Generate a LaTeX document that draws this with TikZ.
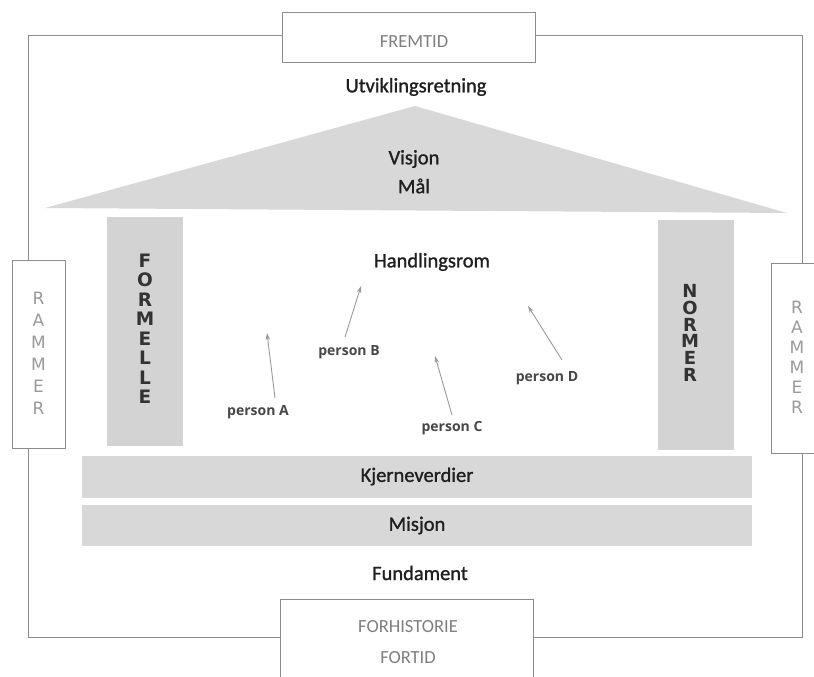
\documentclass[tikz,border=0pt]{standalone}
\usepackage{fontspec}
\setmainfont{Carlito}
\newfontfamily\semib{Carlito}[FakeBold=1.2]
\newfontfamily\lettfont{DejaVu Sans}
\newfontfamily\ramfont{DejaVu Sans}
\newfontfamily\persfont{Open Sans}
\usetikzlibrary{arrows.meta}
\definecolor{framegrey}{HTML}{8C8C8C}
\definecolor{fillgrey}{HTML}{D8D8D8}
\definecolor{pillargrey}{HTML}{D3D3D3}
\definecolor{txtgrey}{HTML}{7F7F7F}
\definecolor{ramgrey}{HTML}{9A9A9A}
\definecolor{arrowgrey}{HTML}{9A9A9A}
\begin{document}
\begin{tikzpicture}[x=1pt,y=-1pt,
  framebox/.style={draw=framegrey, line width=0.8pt, fill=white, inner sep=0pt},
  band/.style={fill=fillgrey, inner sep=0pt, minimum width=670pt},
  pillar/.style={fill=pillargrey, inner sep=0pt, minimum width=76pt},
  bigtext/.style={font=\semib\fontsize{20.5}{24}\selectfont, text=black!88},
  greytext/.style={font=\fontsize{18.5}{22}\selectfont, text=txtgrey},
  vlett/.style={align=center, inner sep=0pt, text=black!80},
  ramlett/.style={align=center, inner sep=0pt, text=ramgrey, font=\ramfont\fontsize{17}{22}\selectfont},
  pers/.style={font=\persfont\bfseries\fontsize{14}{16}\selectfont, text=black!72, inner sep=0pt},
  parrow/.style={draw=arrowgrey, line width=0.9pt, -{Stealth[length=7pt,width=4.5pt]}},
]
\useasboundingbox (0,0) rectangle (814,677);
\fill[white] (0,0) rectangle (814,677);
% outer frame
\draw[framegrey, line width=0.8pt] (28,35) rectangle (802,637);
% top box
\node[framebox, minimum width=253pt, minimum height=50pt] (fremtidbox) at (408.5,37) {};
\node[greytext] (fremtid) at (414,42) {FREMTID};
\node[bigtext] (utv) at (416,87) {Utviklingsretning};
% roof
\fill[fillgrey] (45,208) -- (415,106) -- (787,213) -- cycle;
\node[bigtext] (visjon) at (414,159) {Visjon};
\node[bigtext] (maal) at (414,186) {Mål};
% pillars
\node[pillar, minimum height=229pt] (formelle) at (145,331.5) {};
\node[vlett, font=\lettfont\bfseries\fontsize{18.5}{19.5}\selectfont] (formelletxt) at (145,329) {F\\O\\R\\M\\E\\L\\L\\E};
\node[pillar, minimum height=230pt] (normer) at (696,335) {};
\node[vlett, font=\lettfont\bfseries\fontsize{18}{16.8}\selectfont] (normertxt) at (690,333) {N\\O\\R\\M\\E\\R};
% rammer boxes
\node[framebox, minimum width=53pt, minimum height=188pt] (ramL) at (38.5,354) {};
\node[ramlett] (ramLtxt) at (38.5,353) {R\\A\\M\\M\\E\\R};
\node[framebox, minimum width=52pt, minimum height=190pt] (ramR) at (797,358) {};
\node[ramlett, font=\ramfont\fontsize{17}{20}\selectfont] (ramRtxt) at (797,357) {R\\A\\M\\M\\E\\R};
% handlingsrom
\node[bigtext] (hand) at (432,262) {Handlingsrom};
% persons
\node[pers] (pA) at (258,412) {person A};
\node[pers] (pB) at (349,352) {person B};
\node[pers] (pC) at (452,428) {person C};
\node[pers] (pD) at (547,378) {person D};
\coordinate (aA0) at (275,398); \coordinate (aA1) at (267,333);
\coordinate (aB0) at (345,337); \coordinate (aB1) at (361,286);
\coordinate (aC0) at (452,415); \coordinate (aC1) at (435,356);
\coordinate (aD0) at (562,360); \coordinate (aD1) at (528,306);
\draw[parrow] (aA0) -- (aA1);
\draw[parrow] (aB0) -- (aB1);
\draw[parrow] (aC0) -- (aC1);
\draw[parrow] (aD0) -- (aD1);
% bands
\node[band, minimum height=42pt] (kjerne) at (417,476.5) {};
\node[bigtext] (kjernetxt) at (417,476.5) {Kjerneverdier};
\node[band, minimum height=41pt] (misjon) at (417,525.5) {};
\node[bigtext] (misjontxt) at (417,525.5) {Misjon};
\node[bigtext] (fund) at (420,573) {Fundament};
% bottom box
\node[framebox, minimum width=253pt, minimum height=78pt] (forbox) at (406.5,638) {};
\node[greytext] (forh) at (408,627) {FORHISTORIE};
\node[greytext] (fortid) at (408,658) {FORTID};
\end{tikzpicture}
\end{document}
